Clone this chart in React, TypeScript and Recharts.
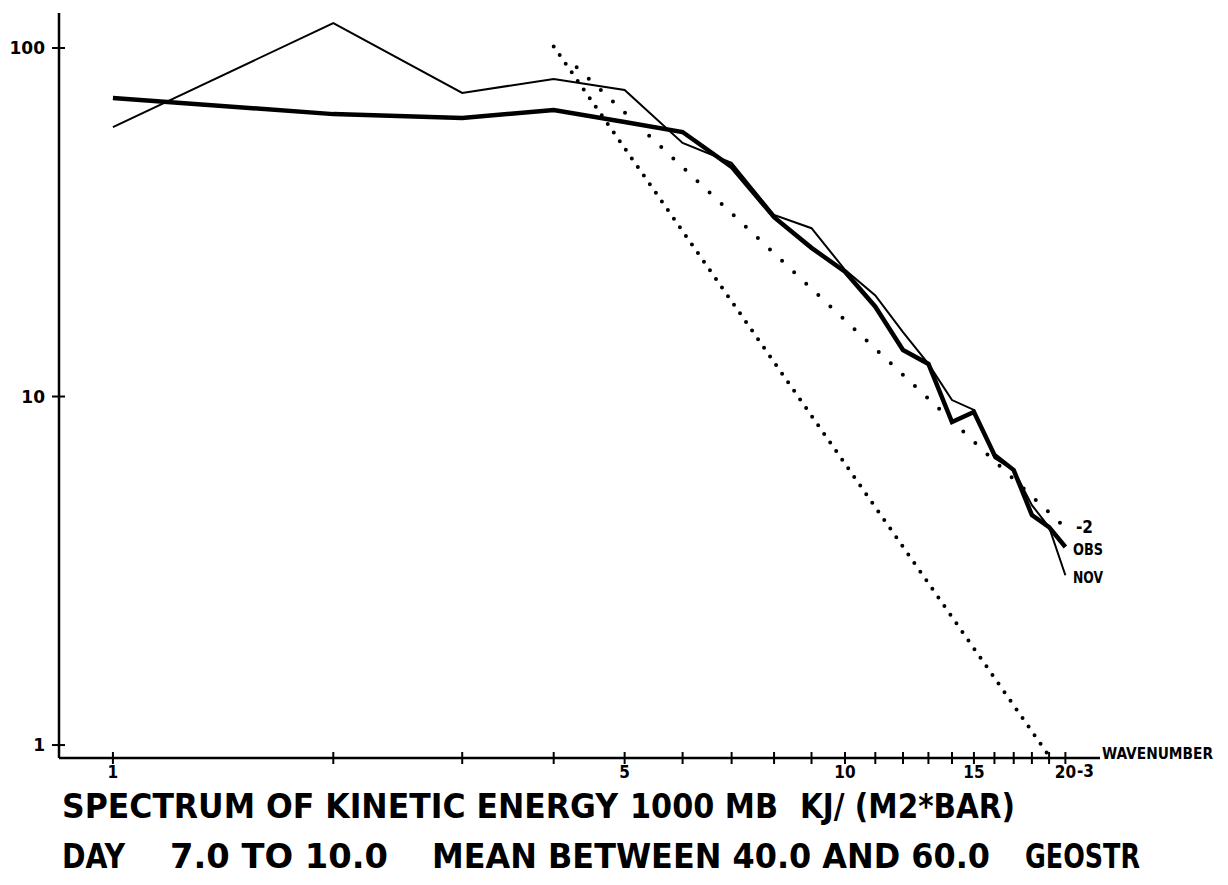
import React from 'react';
import { LineChart, Line, XAxis, YAxis } from 'recharts';

// wavenumber 1..20, kinetic energy in KJ/(M2*BAR)
const wavenumbers = [1, 2, 3, 4, 5, 6, 7, 8, 9, 10, 11, 12, 13, 14, 15, 16, 17, 18, 19, 20];
const obsEnergy = [71.9, 64.6, 63.0, 66.4, 61.3, 57.4, 45.6, 32.7, 26.7, 22.8, 18.1, 13.6, 12.4, 8.45, 9.03, 6.8, 6.15, 4.57, 4.22, 3.7];
const novEnergy = [59.3, 117.9, 74.3, 81.5, 75.8, 53.4, 46.8, 33.2, 30.4, 23.1, 19.5, 15.3, 12.4, 9.77, 9.15, 6.66, 6.15, 4.88, 4.22, 3.07];

// reference slopes (end points)
const slopeMinus3K = [4, 19];
const slopeMinus3E = [101, 0.93];
const slopeMinus2K = [4.3, 20];
const slopeMinus2E = [88, 4.2];

const xTicks = wavenumbers;
const xTickLabels = [1, 5, 10, 15, 20];
const yTicks = [1, 10, 100];

const titleLine1 = ['SPECTRUM OF KINETIC ENERGY', '1000 MB', 'KJ/ (M2*BAR)'];
const titleLine2 = ['DAY', '7.0 TO 10.0', 'MEAN BETWEEN 40.0 AND 60.0', 'GEOSTR'];

const toPoints = (ks: number[], es: number[]) => ks.map((k, i) => ({ k, e: es[i] }));

const obsData = toPoints(wavenumbers, obsEnergy);
const novData = toPoints(wavenumbers, novEnergy);
const minus3Data = toPoints(slopeMinus3K, slopeMinus3E);
const minus2Data = toPoints(slopeMinus2K, slopeMinus2E);

const NARROW = "'DejaVu Sans Condensed', 'DejaVu Sans', sans-serif";

const XTick = (props: any) => {
  const { x, y, payload } = props;
  const showLabel = xTickLabels.includes(payload.value);
  return (
    <g>
      <line x1={x} x2={x} y1={y - 6} y2={y + 6} stroke="#000" strokeWidth={2} />
      {showLabel && (
        <text x={x} y={y + 20} textAnchor="middle" fontFamily={NARROW} fontWeight="bold" fontSize={17} fill="#000">
          {payload.value}
        </text>
      )}
    </g>
  );
};

const YTick = (props: any) => {
  const { x, y, payload } = props;
  return (
    <g>
      <line x1={x - 7} x2={x + 6} y1={y} y2={y} stroke="#000" strokeWidth={2} />
      <text x={x - 14} y={y + 6} textAnchor="end" fontFamily="'DejaVu Sans', sans-serif" fontWeight="bold" fontSize={17} fill="#000">
        {payload.value}
      </text>
    </g>
  );
};

const TitleWord = ({ x, y, w, children }: { x: number; y: number; w: number; children: string }) => (
  <text
    x={x}
    y={y}
    textLength={w}
    lengthAdjust="spacingAndGlyphs"
    fontFamily={NARROW}
    fontWeight="bold"
    fontSize={33}
    fill="#000"
  >
    {children}
  </text>
);

export default function App() {
  return (
    <div style={{ position: 'absolute', left: 0, top: 0, width: 1228, height: 885, background: '#fff' }}>
      <LineChart width={1228} height={885} margin={{ top: 13, right: 128, bottom: 87, left: 0 }}>
        <XAxis
          dataKey="k"
          type="number"
          scale="log"
          domain={[0.844, 22.3]}
          allowDataOverflow
          ticks={xTicks}
          interval={0}
          tickSize={0}
          tickMargin={0}
          tickLine={false}
          tick={<XTick />}
          axisLine={{ stroke: '#000', strokeWidth: 2.5 }}
          height={40}
        />
        <YAxis
          dataKey="e"
          type="number"
          scale="log"
          domain={[0.918, 126]}
          allowDataOverflow
          ticks={yTicks}
          interval={0}
          tickSize={0}
          tickMargin={0}
          tickLine={false}
          tick={<YTick />}
          axisLine={{ stroke: '#000', strokeWidth: 2.5 }}
          width={59}
        />
        <Line data={minus3Data} dataKey="e" stroke="#000" strokeWidth={4} strokeLinecap="round" strokeDasharray="0 10.5" dot={false} isAnimationActive={false} />
        <Line data={minus2Data} dataKey="e" stroke="#000" strokeWidth={4} strokeLinecap="round" strokeDasharray="0 16.6" dot={false} isAnimationActive={false} />
        <Line data={novData} dataKey="e" stroke="#000" strokeWidth={2} dot={false} isAnimationActive={false} />
        <Line data={obsData} dataKey="e" stroke="#000" strokeWidth={4.5} dot={false} isAnimationActive={false} />
      </LineChart>
      <svg width={1228} height={885} style={{ position: 'absolute', left: 0, top: 0, pointerEvents: 'none' }}>
        <text x={1077} y={777} fontFamily={NARROW} fontWeight="bold" fontSize={17} fill="#000">-3</text>
        <text x={1102} y={759} textLength={111} lengthAdjust="spacingAndGlyphs" fontFamily={NARROW} fontWeight="bold" fontSize={16} fill="#000">WAVENUMBER</text>
        <text x={1076} y={533} fontFamily={NARROW} fontWeight="bold" fontSize={17} fill="#000">-2</text>
        <text x={1073} y={555} textLength={30} lengthAdjust="spacingAndGlyphs" fontFamily={NARROW} fontWeight="bold" fontSize={15} fill="#000">OBS</text>
        <text x={1073} y={583} textLength={30} lengthAdjust="spacingAndGlyphs" fontFamily={NARROW} fontWeight="bold" fontSize={15} fill="#000">NOV</text>
        <TitleWord x={62} y={818} w={556}>{titleLine1[0]}</TitleWord>
        <TitleWord x={630} y={818} w={148}>{titleLine1[1]}</TitleWord>
        <TitleWord x={800} y={818} w={215}>{titleLine1[2]}</TitleWord>
        <TitleWord x={62} y={868} w={63}>{titleLine2[0]}</TitleWord>
        <TitleWord x={170} y={868} w={218}>{titleLine2[1]}</TitleWord>
        <TitleWord x={432} y={868} w={558}>{titleLine2[2]}</TitleWord>
        <TitleWord x={1025} y={868} w={115}>{titleLine2[3]}</TitleWord>
      </svg>
    </div>
  );
}
